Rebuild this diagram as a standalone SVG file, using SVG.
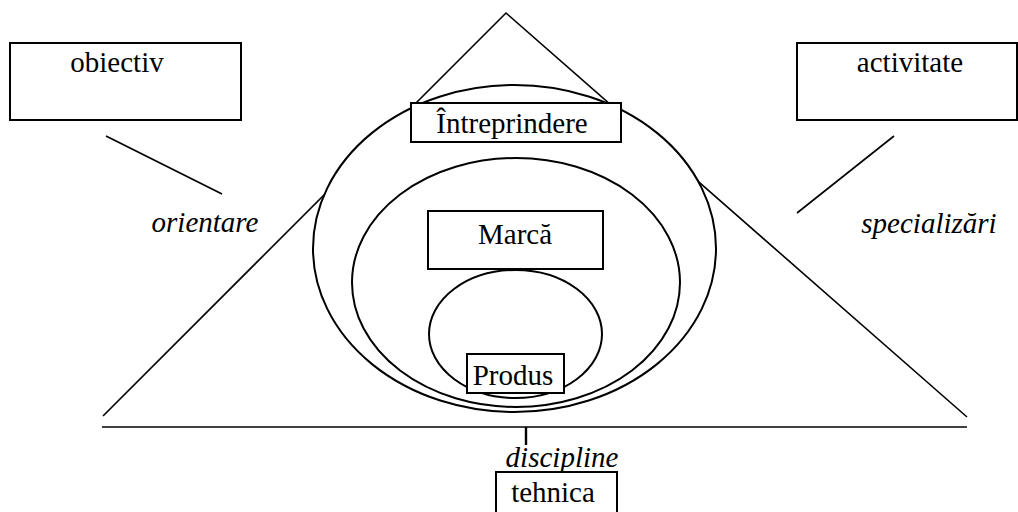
<svg xmlns="http://www.w3.org/2000/svg" width="1018" height="512" viewBox="0 0 1018 512">
  <style>
    .ln { fill: none; stroke: #000; stroke-width: 1.6; }
    .ring { fill: #fff; stroke: #000; stroke-width: 2; }
    .box { fill: #fff; stroke: #000; stroke-width: 2; }
    .lbl { font-family: 'Liberation Serif', 'Times New Roman', Times, serif; font-size: 29px; fill: #000; text-anchor: middle; }
    .it { font-style: italic; }
  </style>
  <rect width="1018" height="512" fill="#fff"/>

  <!-- pyramid, base line and the connecting strokes -->
  <g id="connectors">
    <polyline class="ln" points="103,416 506,13 967,417"/>
    <line class="ln" x1="102" y1="427" x2="967" y2="427"/>
    <line class="ln" x1="526" y1="427" x2="526" y2="445" style="stroke-width:2.4"/>
    <line class="ln" x1="106" y1="136" x2="222" y2="194"/>
    <line class="ln" x1="894" y1="136" x2="797" y2="213"/>
  </g>

  <!-- nested levels -->
  <g id="ring-intreprindere">
    <ellipse class="ring" cx="514.5" cy="248.5" rx="201.5" ry="163.5"/>
  </g>
  <g id="ring-marca">
    <ellipse class="ring" cx="516" cy="282.5" rx="164" ry="124.5"/>
  </g>
  <g id="ring-produs">
    <ellipse class="ring" cx="515.5" cy="334" rx="86.5" ry="64"/>
  </g>

  <g id="node-intreprindere">
    <rect class="box" x="411" y="103" width="210" height="39"/>
    <text class="lbl" x="512" y="133">Întreprindere</text>
  </g>
  <g id="node-marca">
    <rect class="box" x="428" y="211" width="175" height="58"/>
    <text class="lbl" x="515" y="244">Marcă</text>
  </g>
  <g id="node-produs">
    <rect class="box" x="467" y="354" width="97" height="39"/>
    <text class="lbl" x="513" y="385">Produs</text>
  </g>

  <g id="node-obiectiv">
    <rect class="box" x="10" y="43" width="231" height="77"/>
    <text class="lbl" x="117" y="72">obiectiv</text>
  </g>
  <g id="node-activitate">
    <rect class="box" x="797" y="43" width="220" height="77"/>
    <text class="lbl" x="910" y="72">activitate</text>
  </g>
  <g id="node-tehnica">
    <rect class="box" x="496" y="472" width="121" height="45"/>
    <text class="lbl" x="553" y="502">tehnica</text>
  </g>

  <g id="labels">
    <text class="lbl it" x="205" y="232">orientare</text>
    <text class="lbl it" x="929" y="233">specializări</text>
    <text class="lbl it" x="562" y="467">discipline</text>
  </g>
</svg>
